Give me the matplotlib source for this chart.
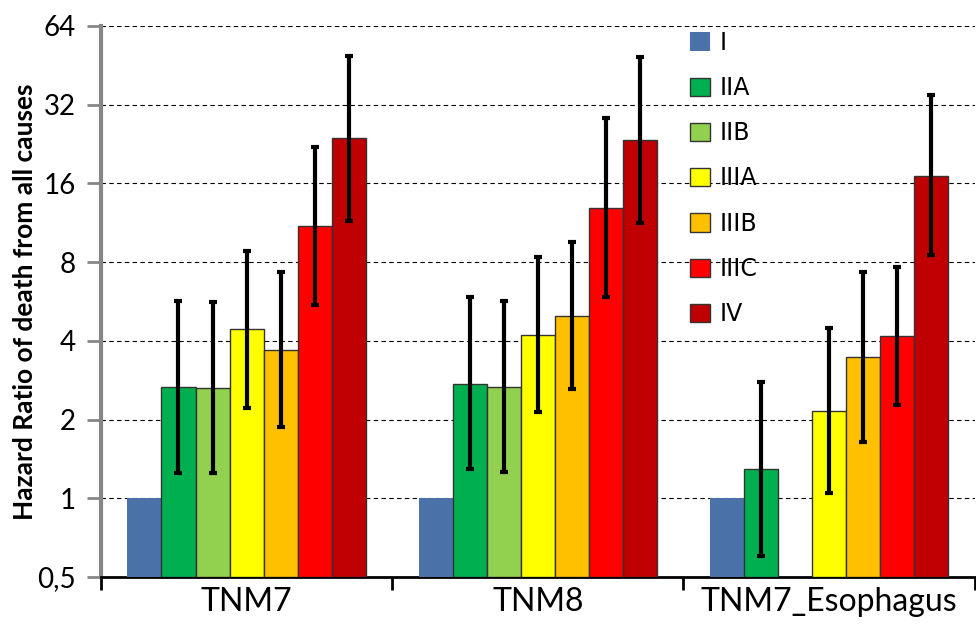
import numpy as np
import matplotlib
matplotlib.use("Agg")
import matplotlib.pyplot as plt
from matplotlib.ticker import FixedLocator

# data
groups = ["TNM7", "TNM8", "TNM7_Esophagus"]
stages = ["I", "IIA", "IIB", "IIIA", "IIIB", "IIIC", "IV"]
colors = ["#4A72A8", "#00B050", "#92D050", "#FFFF00", "#FFC000", "#FF0000", "#C00000"]

# hazard ratios per stage, one value per group (nan = no bar)
hr_I = [1.0, 1.0, 1.0]
hr_IIA = [2.67, 2.73, 1.29]
hr_IIB = [2.65, 2.66, np.nan]
hr_IIIA = [4.44, 4.20, 2.16]
hr_IIIB = [3.70, 4.99, 3.47]
hr_IIIC = [10.97, 12.9, 4.16]
hr_IV = [23.8, 23.5, 17.1]

# 95% CI lower / upper
lo_IIA = [1.25, 1.29, 0.60]
hi_IIA = [5.68, 5.89, 2.78]
lo_IIB = [1.25, 1.26, np.nan]
hi_IIB = [5.64, 5.69, np.nan]
lo_IIIA = [2.21, 2.13, 1.05]
hi_IIIA = [8.86, 8.40, 4.48]
lo_IIIB = [1.87, 2.62, 1.64]
hi_IIIB = [7.32, 9.53, 7.35]
lo_IIIC = [5.47, 5.87, 2.28]
hi_IIIC = [22.0, 28.4, 7.63]
lo_IV = [11.5, 11.3, 8.48]
hi_IV = [49.2, 48.7, 34.7]

yticks = [0.5, 1, 2, 4, 8, 16, 32, 64]
ytick_labels = ["0,5", "1", "2", "4", "8", "16", "32", "64"]

hr = [hr_I, hr_IIA, hr_IIB, hr_IIIA, hr_IIIB, hr_IIIC, hr_IV]
lo = [None, lo_IIA, lo_IIB, lo_IIIA, lo_IIIB, lo_IIIC, lo_IV]
hi = [None, hi_IIA, hi_IIB, hi_IIIA, hi_IIIB, hi_IIIC, hi_IV]

fig = plt.figure(figsize=(9.76, 6.32), dpi=100)
ax = fig.add_axes([0.1035, 0.087, 0.895, 0.872])
ax.set_yscale("log", base=2)

x = np.arange(len(groups))
w = 0.117
base = 0.5

for i, st in enumerate(stages):
    xs = x + (i - 3) * w
    vals = np.array(hr[i], dtype=float)
    ec = "none" if i == 0 else "#333333"
    ax.bar(xs, vals - base, bottom=base, width=w, color=colors[i],
           edgecolor=ec, linewidth=1.0, label=st, zorder=3)
    if lo[i] is not None:
        l = np.array(lo[i], dtype=float)
        h = np.array(hi[i], dtype=float)
        ax.errorbar(xs, vals, yerr=[vals - l, h - vals], fmt="none",
                    ecolor="black", elinewidth=3, capsize=3, capthick=3, zorder=4)

ax.set_ylim(0.5, 64)
ax.set_xlim(-0.5, 2.5)
ax.yaxis.set_major_locator(FixedLocator(yticks))
ax.yaxis.set_minor_locator(FixedLocator([]))
ax.set_yticklabels(ytick_labels, fontsize=20, family="Lato")
ax.grid(axis="y", linestyle=(0, (4, 3)), color="black", linewidth=0.8, zorder=0)
ax.set_axisbelow(True)

ax.set_xticks(x)
ax.set_xticklabels(groups, fontsize=23, family="Lato")
ax.tick_params(axis="x", which="major", length=0, pad=7)
ax.set_xticks([-0.5, 0.5, 1.5, 2.5], minor=True)
ax.tick_params(axis="x", which="minor", length=9, width=2, color="black")
ax.tick_params(axis="y", length=10, width=2, color="#868686", pad=8)

for s in ["top", "right"]:
    ax.spines[s].set_visible(False)
ax.spines["left"].set_color("#868686")
ax.spines["left"].set_linewidth(3)
ax.spines["bottom"].set_color("black")
ax.spines["bottom"].set_linewidth(2)

ax.set_ylabel("Hazard Ratio of death from all causes", fontsize=19,
              fontweight="bold", family="Lato")
ax.yaxis.set_label_coords(-0.073, 0.5)

ax.legend(loc="upper left", bbox_to_anchor=(0.685, 0.985), bbox_transform=fig.transFigure,
          frameon=False, fontsize=17, handlelength=0.85, handleheight=0.8,
          handletextpad=0.4, labelspacing=0.9)

fig.savefig("out.png", dpi=100)
